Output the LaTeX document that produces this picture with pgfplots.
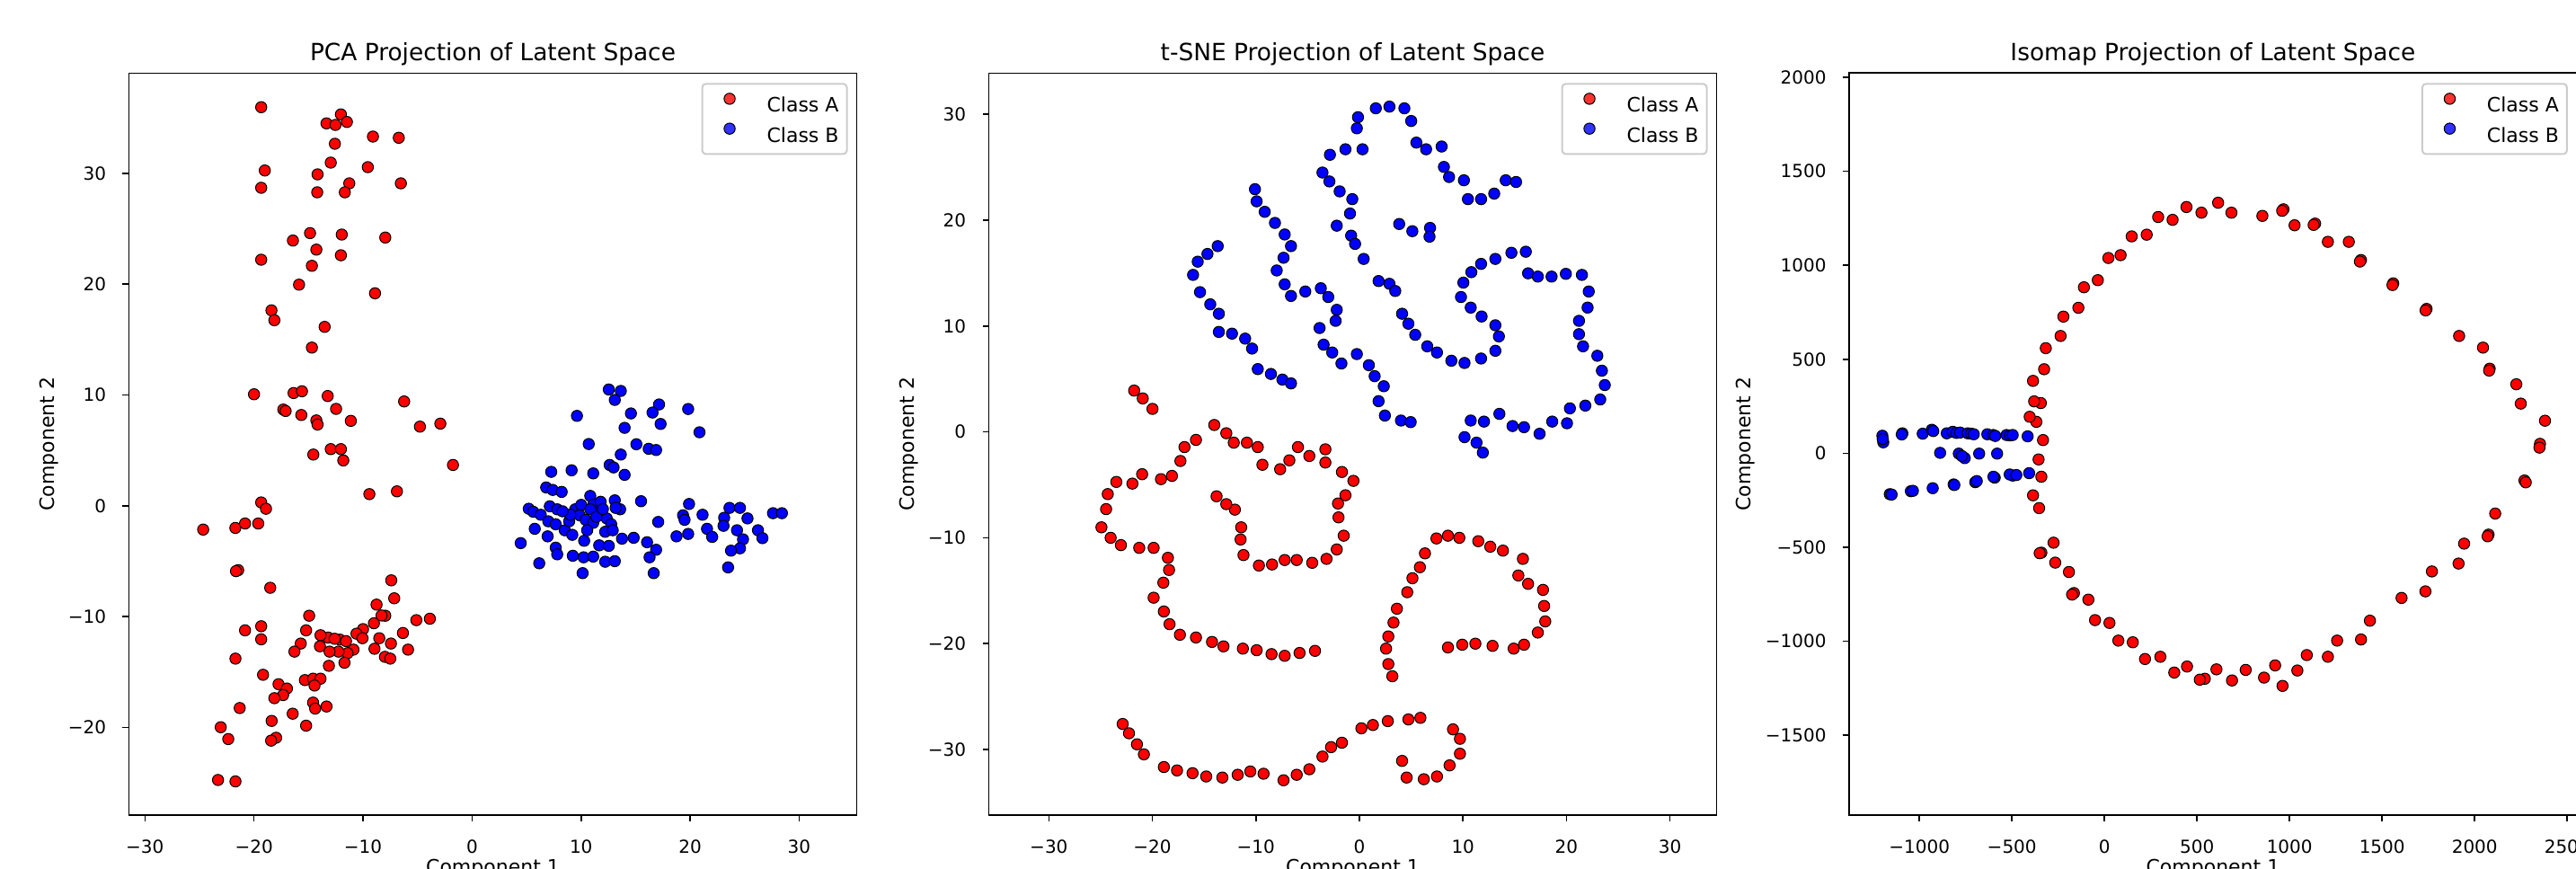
\documentclass[border=0pt]{standalone}
\usepackage{fontspec}
\setmainfont{DejaVu Sans}
\usepackage{pgfplots}
\pgfplotsset{compat=1.18}
\definecolor{legframe}{RGB}{204,204,204}
\pgfplotsset{
  classA/.style={only marks, mark=*, mark size=3.1pt, mark options={draw=black, fill=red, line width=0.5pt}},
  classB/.style={only marks, mark=*, mark size=3.1pt, mark options={draw=black, fill=blue, line width=0.5pt}},
  myax/.style={
    scale only axis, width=405pt, height=412.8pt, anchor=south west,
    axis line style={line width=0.8pt, black},
    every tick/.style={black, line width=0.8pt},
    tick align=outside, major tick length=3.5pt,
    xtick pos=bottom, ytick pos=left, scaled ticks=false,
    ticklabel style={font=\fontsize{10}{12}\selectfont},
    xticklabel style={inner sep=0pt, anchor=north, yshift=-10pt},
    yticklabel style={inner sep=0pt, anchor=east, xshift=-9pt},
    every axis title shift=0pt,
    title style={at={(axis description cs:0.5,1.0163)}, anchor=base, inner sep=0pt, font=\fontsize{13.2}{15.8}\selectfont},
    xlabel style={at={(axis description cs:0.5,-0.0594)}, anchor=north, inner sep=0pt, font=\fontsize{11}{13.2}\selectfont},
    ylabel style={at={(axis description cs:-0.096,0.5)}, anchor=south, inner sep=0pt, font=\fontsize{11}{13.2}\selectfont},
    xlabel={Component 1}, ylabel={Component 2},
    legend image code/.code={
      \path (-10.25pt,0pt) (10.25pt,0pt);
      \draw[#1] plot coordinates {(0pt,4pt)};
    },
    legend style={at={(1,1)}, anchor=north east, xshift=-5pt, yshift=-5.5pt,
      draw=legframe, line width=1pt, rounded corners=2pt,
      fill=white, fill opacity=0.8, text opacity=1,
      font=\fontsize{11}{13.2}\selectfont,
      inner xsep=4.5pt, inner ysep=5.2pt, row sep=4.6pt,
      nodes={inner sep=0pt},
      /tikz/every odd column/.style={column sep=10pt}},
    legend cell align=left,
  }
}
\begin{document}
\begin{tikzpicture}
% ---------------- PCA ----------------
\begin{axis}[myax, at={(71.75pt,29.55pt)},
  xmin=-31.47, xmax=35.28, ymin=-27.9, ymax=39.04,
  xtick={-30,-20,-10,0,10,20,30}, xticklabels={−30,−20,−10,0,10,20,30},
  ytick={-20,-10,0,10,20,30}, yticklabels={−20,−10,0,10,20,30},
  title={PCA Projection of Latent Space}]
\addplot[classA] coordinates {
(-19.34,35.96) (-12.03,35.31) (-13.35,34.50) (-12.53,34.36) (-11.48,34.63) (-9.09,33.31) (-6.72,33.20)
(-12.58,32.66) (-12.96,30.96) (-9.56,30.55) (-19.01,30.25) (-14.17,29.90) (-11.26,29.09) (-6.53,29.09)
(-19.34,28.69) (-14.20,28.28) (-11.67,28.28) (-14.86,24.60) (-11.95,24.47) (-16.43,23.93) (-7.96,24.20)
(-14.28,23.11) (-12.03,22.60) (-19.34,22.20) (-14.69,21.65) (-15.87,19.95) (-8.90,19.17) (-18.40,17.63)
(-18.13,16.74) (-13.52,16.14) (-14.69,14.27) (-20.00,10.06) (-16.37,10.17) (-15.60,10.33) (-13.24,9.90)
(-6.23,9.41) (-17.31,8.68) (-17.10,8.55) (-15.66,8.19) (-12.47,8.74) (-14.28,7.70) (-14.17,7.33)
(-11.12,7.66) (-4.78,7.14) (-2.91,7.41) (-12.96,5.11) (-12.03,5.11) (-14.56,4.62) (-11.81,4.09)
(-1.75,3.68) (-9.42,1.05) (-6.89,1.30) (-19.34,0.30) (-18.90,-0.27)
(-24.66,-2.15) (-21.71,-2.00) (-20.82,-1.60) (-19.61,-1.60)
(-21.45,-5.81) (-21.65,-5.90) (-18.51,-7.4) (-7.41,-6.73) (-7.14,-8.35) (-8.76,-8.92) (-14.94,-9.92)
(-7.96,-9.92) (-9.0,-10.6) (-5.11,-10.32) (-3.87,-10.19) (-6.34,-11.48) (-5.87,-12.98) (-8.51,-11.95)
(-8.95,-12.9) (-7.44,-12.43) (-7.99,-13.63) (-7.5,-13.79) (-10.0,-11.13) (-10.6,-11.54) (-10.05,-11.95)
(-10.88,-12.98) (-11.42,-13.3) (-11.7,-14.16) (-12.11,-12.08) (-11.56,-12.21) (-12.25,-13.16)
(-13.21,-11.89) (-13.9,-11.68) (-13.95,-12.68) (-13.07,-13.16) (-13.13,-14.44) (-15.71,-12.43)
(-16.29,-13.16) (-15.22,-11.24) (-19.34,-10.87) (-19.34,-12.05) (-20.82,-11.24) (-21.7,-13.79)
(-19.17,-15.25) (-17.75,-16.1) (-16.98,-16.49) (-17.33,-17.08) (-18.13,-17.36) (-15.33,-15.73)
(-14.58,-15.6) (-13.9,-15.6) (-14.45,-16.22) (-14.58,-17.76) (-14.39,-18.3) (-13.35,-18.11)
(-21.31,-18.25) (-16.45,-18.76) (-18.38,-19.41) (-15.22,-19.84) (-23.05,-19.98) (-22.36,-21.05)
(-17.97,-20.93) (-18.43,-21.19) (-23.3,-24.74) (-21.7,-24.87) (-8.3,-9.9) (-12.6,-12.0)
};
\addlegendentry{Class A}
\addplot[classB] coordinates {
(12.54,10.49) (13.64,10.36) (13.09,9.55) (17.15,9.14) (16.55,8.41) (14.57,8.33) (9.62,8.11) (19.82,8.73)
(17.29,7.38) (13.99,7.03) (20.86,6.63) (10.7,5.57) (15.07,5.55) (16.2,5.14) (16.88,5.03) (13.64,4.62)
(12.62,3.68) (12.98,3.46) (11.11,2.92) (13.99,2.79) (7.26,3.06) (9.13,3.2) (6.8,1.65) (7.4,1.43)
(8.22,1.25) (15.5,0.41) (10.84,0.89) (13.09,0.49) (19.9,0.16) (23.61,-0.19) (24.57,-0.19) (27.6,-0.67)
(28.42,-0.67) (19.35,-0.86) (21.14,-0.81) (23.12,-1.08) (25.26,-1.14) (17.07,-1.46) (23.06,-1.81)
(19.49,-1.27) (21.55,-2.08) (22.02,-2.81) (24.3,-2.21) (26.22,-2.21) (26.63,-2.92) (24.85,-3.03)
(24.57,-3.84) (23.75,-4.05) (23.48,-5.56) (18.75,-2.76) (19.82,-2.54) (16.05,-3.29) (16.88,-3.97)
(16.28,-4.65) (16.66,-6.08) (14.82,-2.89) (13.75,-2.97) (4.46,-3.37) (6.16,-5.19) (10.14,-6.08)
(9.24,-4.51) (10.23,-4.65) (11.11,-4.59) (12.21,-5.05) (13.09,-5.0) (10.28,-3.16) (11.66,-3.57)
(12.54,-3.62) (7.67,-3.78) (7.81,-4.38) (6.93,-2.76) (5.75,-2.08) (5.2,-0.27) (5.61,-0.54) (6.3,-0.81)
(7.13,-0.05) (7.81,-0.32) (6.99,-1.4) (7.67,-1.67) (8.5,-2.21) (9.19,-2.62) (9.46,-0.32) (10.01,0.08)
(11.11,0.08) (11.79,0.36) (9.87,-0.86) (10.42,-1.27) (11.11,-1.54) (11.66,-0.59) (12.35,-1.14)
(12.76,-1.67) (12.21,-2.35) (12.9,-2.21) (13.58,-0.32) (13.17,-0.19) (10.56,-2.21) (8.91,-1.4)
(10.84,-0.32) (11.4,-1.0) (12.0,-0.3) (9.0,-0.8) (8.3,-0.5)
};
\addlegendentry{Class B}
\end{axis}
% ---------------- t-SNE ----------------
\begin{axis}[myax, at={(550.25pt,29.55pt)},
  xmin=-35.8, xmax=34.5, ymin=-36.2, ymax=33.9,
  xtick={-30,-20,-10,0,10,20,30}, xticklabels={−30,−20,−10,0,10,20,30},
  ytick={-30,-20,-10,0,10,20,30}, yticklabels={−30,−20,−10,0,10,20,30},
  title={t-SNE Projection of Latent Space}]
\addplot[classA] coordinates {
(-21.76,3.9) (-20.93,3.16) (-19.99,2.17) (-14.02,0.65) (-12.86,-0.13) (-12.14,-1.02) (-10.87,-1.02)
(-9.82,-1.44) (-9.37,-3.11) (-7.66,-3.53) (-6.77,-2.69) (-5.94,-1.44) (-4.84,-2.28) (-3.29,-1.65)
(-3.29,-2.9) (-1.69,-3.79) (-0.58,-4.63) (-1.35,-5.99) (-2.07,-6.77) (-2.02,-8.08) (-1.52,-9.81)
(-2.19,-11.11) (-3.18,-12.0) (-4.56,-12.37) (-6.06,-12.11) (-7.22,-12.11) (-8.44,-12.53) (-9.71,-12.63)
(-11.2,-11.64) (-11.48,-10.17) (-11.42,-9.02) (-12.03,-7.35) (-12.86,-6.83) (-13.8,-6.09)
(-15.79,-0.76) (-16.9,-1.44) (-17.29,-2.75) (-18.11,-4.16) (-19.17,-4.47) (-20.99,-4.0) (-21.93,-4.89)
(-23.48,-4.73) (-24.31,-5.88) (-24.47,-7.3) (-24.92,-9.02) (-24.03,-10.01) (-23.04,-10.7)
(-21.27,-10.96) (-19.88,-10.96) (-18.5,-11.9) (-18.39,-13.05) (-18.94,-14.25) (-19.88,-15.67)
(-18.89,-16.97) (-18.34,-18.17) (-17.34,-19.17) (-15.79,-19.43) (-14.24,-19.85) (-13.13,-20.27)
(-11.26,-20.48) (-9.93,-20.63) (-8.49,-21.0) (-7.22,-21.16) (-5.78,-20.89) (-4.29,-20.69)
(7.44,-10.07) (8.55,-9.81) (9.65,-10.01) (11.48,-10.33) (12.64,-10.85) (13.86,-11.22) (15.79,-12.0)
(15.35,-13.57) (16.29,-14.36) (17.73,-14.93) (17.84,-16.45) (17.95,-17.91) (17.23,-18.96)
(15.9,-20.11) (14.9,-20.48) (12.86,-20.22) (11.2,-20.01) (9.93,-20.11) (8.55,-20.37)
(6.33,-11.48) (5.84,-12.79) (5.12,-13.83) (4.62,-15.15) (3.62,-16.71) (3.29,-18.02) (2.79,-19.33)
(2.57,-20.48) (2.79,-21.94) (3.18,-23.09)
(-22.87,-27.6) (-22.26,-28.48) (-21.49,-29.52) (-20.82,-30.47) (-18.89,-31.67) (-17.62,-31.99)
(-16.12,-32.25) (-14.8,-32.56) (-13.24,-32.66) (-11.76,-32.4) (-10.54,-32.09) (-9.26,-32.3)
(-7.33,-32.92) (-6.06,-32.4) (-4.84,-31.88) (-3.57,-30.68) (-2.74,-29.79) (-1.69,-29.37) (0.19,-28.01)
(1.3,-27.7) (2.74,-27.33) (4.73,-27.17) (5.89,-27.02) (9.04,-28.11) (9.71,-29.0) (9.71,-30.41)
(8.71,-31.51) (7.49,-32.56) (6.22,-32.82) (4.56,-32.66) (4.12,-31.09)
};
\addlegendentry{Class A}
\addplot[classB] coordinates {
(-0.14,29.73) (-0.25,28.68) (1.58,30.57) (2.9,30.73) (4.34,30.57) (5.0,29.37) (5.5,27.33) (6.44,26.7)
(7.94,26.96) (8.16,25.03) (8.66,24.08) (10.09,23.77) (10.48,21.99) (11.75,21.99) (13.02,22.51)
(14.13,23.77) (15.13,23.61) (0.3,26.7) (-1.35,26.7) (-2.85,26.18) (-3.57,24.5) (-2.9,23.66)
(-1.91,22.72) (-0.69,21.99) (-0.91,20.63) (-2.19,19.48) (-0.8,18.54) (-0.42,17.76) (0.41,16.34)
(-10.09,22.93) (-9.93,21.78) (-9.15,20.79) (-8.16,19.74) (-7.22,18.65) (-6.61,17.55) (-7.33,16.45)
(-7.99,15.25) (-7.22,13.94) (-6.61,12.84) (-5.23,13.26) (-3.73,13.57) (-3.01,12.74) (-2.19,11.53)
(-2.3,10.49) (-3.85,9.81) (-3.46,8.24) (-2.63,7.5) (-1.74,6.46) (-0.25,7.35) (0.91,6.3) (1.47,5.26)
(2.35,4.31) (1.85,2.9) (2.46,1.54) (4.01,1.07) (4.95,0.92)
(-13.69,17.55) (-14.68,16.81) (-15.62,16.08) (-16.07,14.83) (-15.4,13.2) (-14.41,12.05) (-13.58,11.16)
(-13.58,9.44) (-12.31,9.28) (-11.04,8.81) (-10.37,7.87) (-9.82,5.93) (-8.55,5.47) (-7.44,4.94)
(-6.61,4.58)
(1.85,14.25) (2.9,13.99) (3.46,13.31) (4.12,11.16) (4.73,10.22) (5.39,9.17) (6.55,8.08) (7.49,7.5)
(8.88,6.72) (10.15,6.51) (11.75,6.93) (13.13,7.66) (13.47,9.02) (13.13,10.07) (11.8,10.9) (10.75,11.74)
(9.81,12.74) (10.04,14.1) (10.81,15.09) (11.75,15.87) (13.13,16.34) (14.68,16.92) (16.07,17.02)
(16.29,14.98) (17.23,14.67) (18.56,14.67) (19.94,14.93) (21.49,14.83) (22.15,13.26) (22.04,11.74)
(21.21,10.49) (21.21,9.23) (21.6,8.08) (22.98,7.19) (23.42,5.78) (23.7,4.42) (23.26,3.06) (21.82,2.48)
(20.33,2.22) (20.05,0.81) (18.62,0.97) (17.4,-0.18) (15.9,0.44) (14.79,0.55) (13.52,1.7) (12.03,0.97)
(10.75,1.07) (10.15,-0.5) (11.31,-1.02) (11.92,-1.96)
(3.84,19.64) (5.11,18.96) (6.82,19.27) (6.77,18.44)
};
\addlegendentry{Class B}
\end{axis}
% ---------------- Isomap ----------------
\begin{axis}[myax, at={(1028.95pt,29.55pt)},
  xmin=-1380, xmax=2552, ymin=-1925, ymax=2023,
  xtick={-1000,-500,0,500,1000,1500,2000,2500}, xticklabels={−1000,−500,0,500,1000,1500,2000,2500},
  ytick={-1500,-1000,-500,0,500,1000,1500,2000}, yticklabels={−1500,−1000,−500,0,500,1000,1500,2000},
  ylabel style={at={(axis description cs:-0.1284,0.5)}},
  title={Isomap Projection of Latent Space}]
\addplot[classA] coordinates {
(614,1333) (443,1310) (524,1280) (686,1280) (853,1263) (967,1298) (960,1290) (1027,1213) (1138,1222)
(1130,1215) (1207,1125) (1320,1125) (1386,1028) (1380,1020) (1560,904) (1556,895) (1740,768) (1735,760)
(1916,624) (2045,562) (2081,450) (2078,440) (2225,367) (2249,264) (2380,173) (2353,50) (2350,30)
(2269,-145) (2276,-155) (2111,-321) (2075,-433) (2070,-442) (1943,-481) (1913,-587) (1769,-629)
(1734,-735) (1605,-770) (1434,-891) (1386,-991) (1257,-997) (1207,-1083) (1093,-1074) (1042,-1156)
(962,-1238) (922,-1129) (862,-1194) (763,-1153) (689,-1209) (605,-1150) (542,-1200) (515,-1205)
(446,-1135) (377,-1167) (302,-1083) (219,-1095) (153,-1006) (75,-997) (27,-903) (-51,-888) (-87,-779)
(-165,-744) (-175,-752) (-192,-632) (-266,-582) (-275,-476) (-341,-529) (-350,-532) (-353,-292)
(-386,-224) (-341,-125) (-356,-33) (-332,70) (-368,167) (-404,194) (-344,267) (-380,276) (-386,385)
(-326,447) (-317,559) (-237,624) (-222,727) (-141,774) (-111,883) (-36,921) (21,1039) (87,1054)
(147,1154) (228,1163) (290,1257) (368,1242)
};
\addlegendentry{Class A}
\addplot[classB] coordinates {
(-1200,93) (-1195,58) (-1198,75) (-1092,106) (-1095,100) (-982,104) (-933,125) (-925,118) (-852,106)
(-820,114) (-800,108) (-780,110) (-739,106) (-720,104) (-706,101) (-633,101) (-601,97) (-590,92)
(-529,97) (-510,95) (-496,97) (-415,90) (-888,2) (-787,-2) (-755,-26) (-770,-15) (-677,-2) (-580,-2)
(-1160,-218) (-1150,-220) (-1046,-202) (-1035,-200) (-928,-186) (-815,-166) (-811,-169) (-698,-154)
(-690,-148) (-593,-130) (-600,-125) (-496,-119) (-512,-113) (-476,-116) (-407,-106)
};
\addlegendentry{Class B}
\end{axis}
\pgfresetboundingbox
\useasboundingbox (0pt,0pt) rectangle (1433.5pt,483pt);
\end{tikzpicture}
\end{document}
